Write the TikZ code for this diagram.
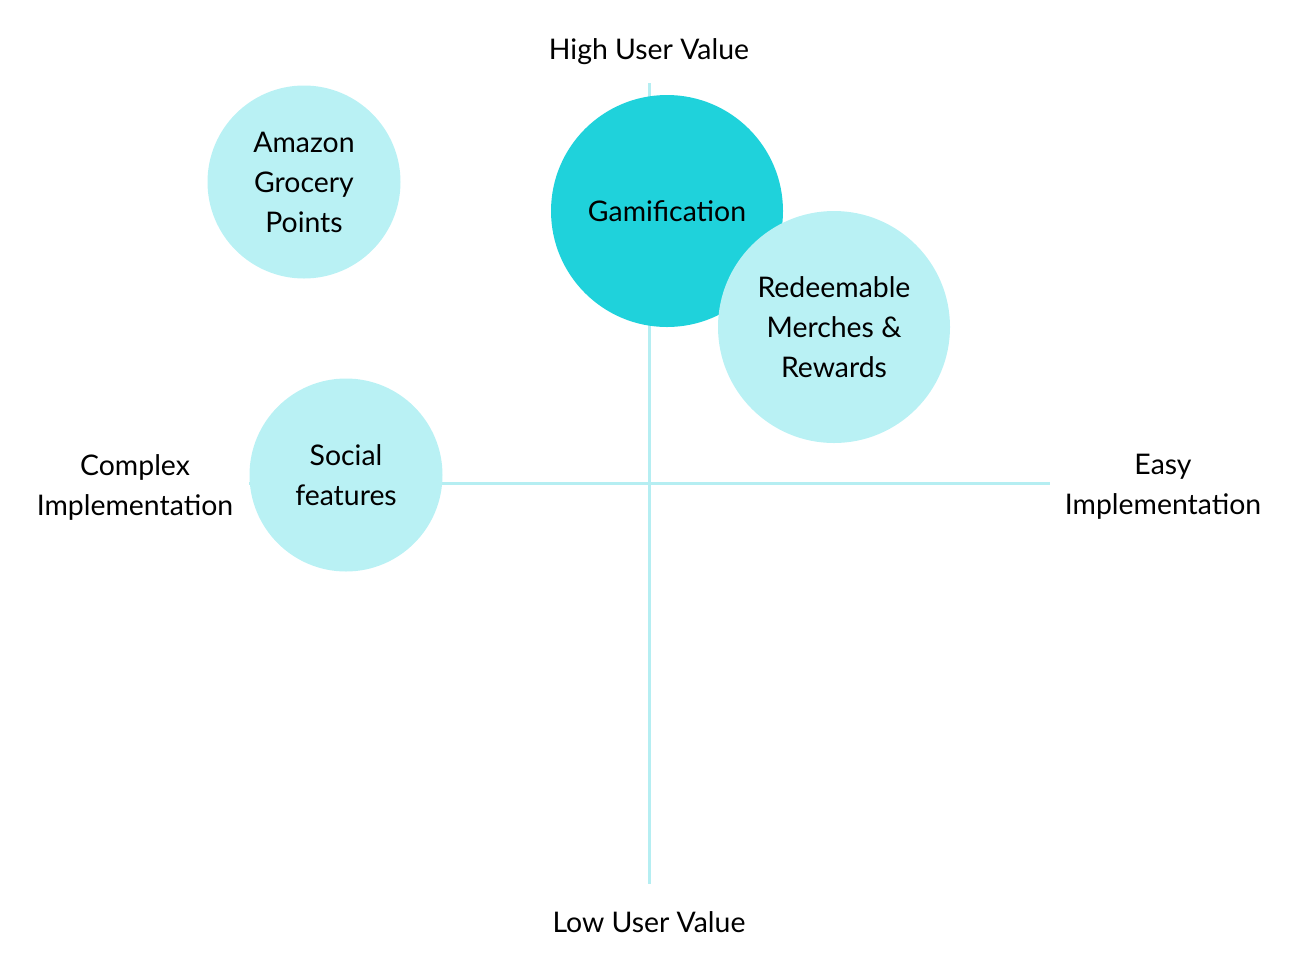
\documentclass[tikz,border=0pt]{standalone}
\usepackage{fontspec}
\setmainfont{Lato}
\definecolor{paleteal}{HTML}{B9F1F4}
\definecolor{deepteal}{HTML}{1FD2DB}
\definecolor{axisteal}{HTML}{B5EEF2}
\tikzset{
  idea/.style={circle,fill=paleteal,align=center,inner sep=0pt,font=\fontsize{14.2}{20}\selectfont},
  axislabel/.style={align=center,font=\fontsize{14.2}{20}\selectfont}
}
\begin{document}
\begin{tikzpicture}[x=0.5pt,y=-0.5pt]
  \useasboundingbox (0,0) rectangle (1296,970);
  % axes
  \coordinate (top) at (649,83);
  \coordinate (bottom) at (649,884);
  \coordinate (left) at (249,483);
  \coordinate (right) at (1050,483);
  \draw[axisteal,line width=1.5pt] (top) -- (bottom);
  \draw[axisteal,line width=1.5pt] (left) -- (right);
  \node[axislabel] (high) at (649,52) {High User Value};
  \node[axislabel] (low) at (649,922) {Low User Value};
  \node[axislabel] (complex) at (135,487) {Complex\\Implementation};
  \node[axislabel] (easy) at (1163,487) {Easy\\Implementation};
  % ideas
  \node[idea,minimum size=96.5pt] (amazon) at (304,182) {Amazon\\Grocery\\Points};
  \node[idea,minimum size=96.5pt] (social) at (346,475) {Social\\features};
  \node[idea,fill=deepteal,minimum size=116pt] (gamification) at (667,211) {Gamification};
  \node[idea,minimum size=116pt] (rewards) at (834,327) {Redeemable\\Merches \&\\Rewards};
\end{tikzpicture}
\end{document}
